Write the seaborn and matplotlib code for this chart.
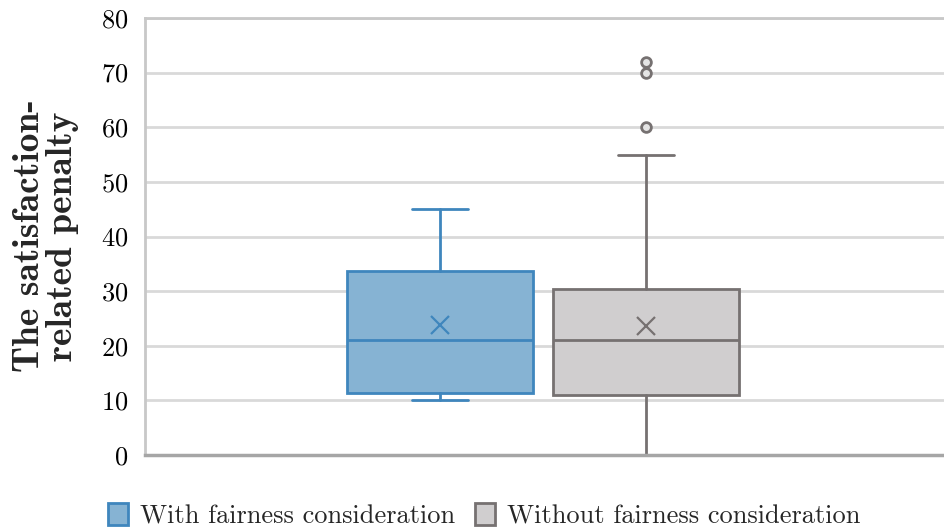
import matplotlib
matplotlib.use("Agg")
import matplotlib.pyplot as plt
import seaborn as sns
from matplotlib.patches import Patch

# box statistics
series = ["With fairness consideration", "Without fairness consideration"]
q1 = [11.3, 11.0]
median = [21.0, 21.0]
q3 = [33.7, 30.4]
whislo = [10.0, 0.0]
whishi = [45.0, 55.0]
means = [23.8, 23.6]
outliers = [[], [60.0, 70.0, 72.0]]

fills = ["#86b3d3", "#d0cecf"]
edges = ["#3f86bd", "#767171"]

sns.set_theme(style="white")
plt.rcParams["font.family"] = ["cmr10", "DejaVu Serif"]
plt.rcParams["axes.formatter.use_mathtext"] = True

fig = plt.figure(figsize=(9.44, 5.28), dpi=100)
ax = fig.add_axes([145 / 944, 1 - 455 / 528, (944 - 145) / 944, (455 - 18) / 528])

positions = [-0.129, 0.129]
for i in range(len(series)):
    st = [dict(label=series[i], q1=q1[i], med=median[i], q3=q3[i],
               whislo=whislo[i], whishi=whishi[i], mean=means[i], fliers=outliers[i])]
    ax.bxp(st, positions=[positions[i]], widths=0.234, patch_artist=True,
           showmeans=True, manage_ticks=False,
           boxprops=dict(facecolor=fills[i], edgecolor=edges[i], linewidth=2),
           medianprops=dict(color=edges[i], linewidth=2),
           whiskerprops=dict(color=edges[i], linewidth=2),
           capprops=dict(color=edges[i], linewidth=2),
           capwidths=0.07,
           meanprops=dict(marker="x", markersize=13, markeredgecolor=edges[i],
                          markeredgewidth=1.6),
           flierprops=dict(marker="o", markersize=7, markerfacecolor="#e4e4e4",
                           markeredgecolor=edges[i], markeredgewidth=2))

ax.set_xlim(-0.5, 0.5 + 3 / 796)
ax.set_ylim(0, 80)
ax.set_yticks(range(0, 81, 10))
ax.set_xticks([])
ax.yaxis.grid(True, color="#d9d9d9", linewidth=2)
ax.set_axisbelow(True)
ax.tick_params(axis="y", length=0, pad=12, labelsize=19, labelcolor="black")

for s in ["top", "left"]:
    ax.spines[s].set_color("#c8c8c8")
    ax.spines[s].set_linewidth(2)
ax.spines["bottom"].set_color("#a6a6a6")
ax.spines["bottom"].set_linewidth(2.5)
ax.spines["right"].set_visible(False)

fig.text(46 / 944, 1 - 236 / 528, "The satisfaction-\nrelated penalty", rotation=90,
         ha="center", va="center", multialignment="center",
         fontsize=27, family=["cmb10", "DejaVu Serif"], linespacing=1.02)

handles = [Patch(facecolor=fills[i], edgecolor=edges[i], linewidth=2) for i in range(2)]
fig.legend(handles, series, loc="center", bbox_to_anchor=(484 / 944, 1 - 516 / 528),
           ncol=2, frameon=False, fontsize=19, handlelength=0.77, handleheight=0.9,
           handletextpad=0.45, columnspacing=0.75, borderaxespad=0, borderpad=0)

fig.savefig("out.png", dpi=100)
